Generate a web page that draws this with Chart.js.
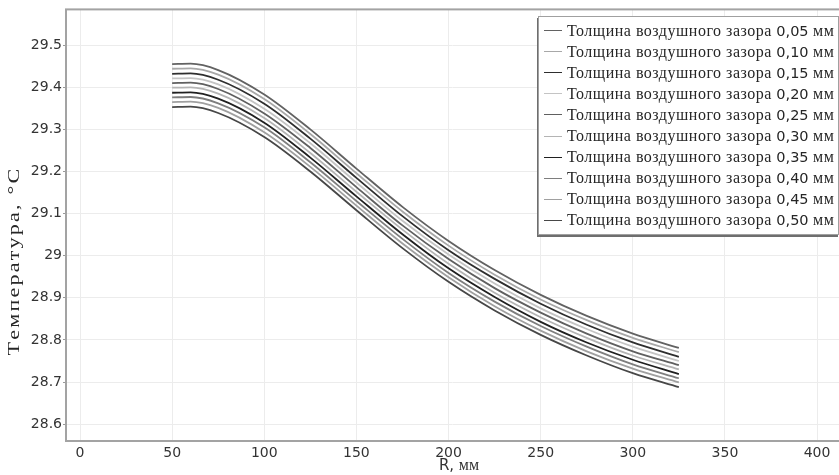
<!DOCTYPE html>
<html><head><meta charset="utf-8">
<script src="https://cdn.jsdelivr.net/npm/chart.js@4.4.1/dist/chart.umd.min.js"></script>
<style>
body{margin:0;background:#fff}
#wrap{position:relative;width:839px;height:475px}
#legend{position:absolute;left:538px;top:16px;width:301px;height:219px;box-sizing:border-box;border:1px solid #a0a0a0;box-shadow:-1px 2px 0 #6e6e6e;background:#fff;padding-top:3px}
.row{height:21.1px;display:flex;align-items:center;white-space:nowrap;font:16px 'Liberation Serif',serif;color:#262626;letter-spacing:0.5px}
.sw{width:18px;height:0;border-top:1.8px solid;margin-left:5px;margin-right:5px}
.num{font-family:'DejaVu Sans',sans-serif;font-size:14.5px;letter-spacing:0}
</style></head>
<body><div id="wrap"><canvas id="c" width="839" height="475"></canvas><div id="legend"></div></div>
<script>
const rValues = [50, 60, 75, 100, 125, 150, 175, 200, 225, 250, 275, 300, 325];
const gapLabels = ['0,05','0,10','0,15','0,20','0,25','0,30','0,35','0,40','0,45','0,50'];
const labelPrefix = 'Толщина воздушного зазора';
const labelUnit = 'мм';
const temp005 = [29.455, 29.456, 29.441, 29.383, 29.300, 29.207, 29.116, 29.035, 28.966, 28.907, 28.857, 28.815, 28.781];
const temp010 = [29.444, 29.445, 29.430, 29.372, 29.289, 29.196, 29.105, 29.024, 28.955, 28.896, 28.847, 28.805, 28.771];
const temp015 = [29.432, 29.433, 29.418, 29.361, 29.278, 29.185, 29.094, 29.013, 28.945, 28.886, 28.836, 28.794, 28.760];
const temp020 = [29.421, 29.422, 29.407, 29.349, 29.267, 29.174, 29.083, 29.003, 28.934, 28.875, 28.826, 28.784, 28.750];
const temp025 = [29.410, 29.411, 29.396, 29.338, 29.256, 29.163, 29.072, 28.992, 28.923, 28.865, 28.815, 28.773, 28.740];
const temp030 = [29.399, 29.400, 29.385, 29.327, 29.244, 29.152, 29.062, 28.981, 28.912, 28.854, 28.805, 28.763, 28.730];
const temp035 = [29.387, 29.388, 29.373, 29.316, 29.233, 29.141, 29.051, 28.970, 28.902, 28.843, 28.794, 28.753, 28.719];
const temp040 = [29.376, 29.377, 29.362, 29.305, 29.222, 29.130, 29.040, 28.959, 28.891, 28.833, 28.784, 28.742, 28.709];
const temp045 = [29.365, 29.366, 29.351, 29.293, 29.211, 29.119, 29.029, 28.949, 28.880, 28.822, 28.773, 28.732, 28.699];
const temp050 = [29.353, 29.354, 29.339, 29.282, 29.200, 29.108, 29.018, 28.938, 28.870, 28.812, 28.763, 28.721, 28.688];
const xTickValues = [0, 50, 100, 150, 200, 250, 300, 350, 400];
const yTickValues = [28.6, 28.7, 28.8, 28.9, 29.0, 29.1, 29.2, 29.3, 29.4, 29.5];
const xTitle = ['R, ', 'мм'];
const yTitle = 'Температура, °C';

const seriesValues = [temp005, temp010, temp015, temp020, temp025, temp030, temp035, temp040, temp045, temp050];
const lineColors = ['#626262','#a8a8a8','#2e2e2e','#c4c4c4','#606060','#b4b4b4','#202020','#7e7e7e','#a0a0a0','#474747'];

const datasets = seriesValues.map((vals, i) => ({
  label: labelPrefix + ' ' + gapLabels[i] + ' ' + labelUnit,
  data: vals.map((v, j) => ({x: rValues[j], y: v})),
  borderColor: lineColors[i],
  borderWidth: 1.8,
  pointRadius: 0,
  fill: false,
  cubicInterpolationMode: 'monotone'
}));

const framePlugin = {
  id: 'frame',
  beforeDatasetsDraw(chart) {
    const {ctx, chartArea: a} = chart;
    ctx.save();
    ctx.strokeStyle = '#a3a3a3';
    ctx.lineWidth = 2;
    ctx.strokeRect(a.left, a.top, a.right - a.left + 2, a.bottom - a.top);
    ctx.restore();
  },
  afterDraw(chart) {
    const {ctx} = chart;
    ctx.save();
    ctx.fillStyle = '#262626';
    ctx.translate(15, 263);
    ctx.rotate(-Math.PI / 2);
    ctx.textAlign = 'left';
    ctx.textBaseline = 'middle';
    ctx.font = "17px 'Liberation Serif'";
    const stretch = 1.3;
    const natural = ctx.measureText(yTitle).width * stretch;
    const target = 185;
    const n = [...yTitle].length;
    const sp = Math.max(0, (target - natural) / (n - 1));
    let x = -target / 2;
    for (const ch of yTitle) {
      ctx.save();
      ctx.translate(x, 0);
      ctx.scale(stretch, 1);
      ctx.fillText(ch, 0, 0);
      ctx.restore();
      x += ctx.measureText(ch).width * stretch + sp;
    }
    ctx.restore();
    ctx.save();
    ctx.fillStyle = '#333';
    ctx.textBaseline = 'middle';
    const f1 = "15px 'DejaVu Sans'", f2 = "16px 'Liberation Serif'";
    ctx.font = f1; const w1 = ctx.measureText(xTitle[0]).width;
    ctx.font = f2; const w2 = ctx.measureText(xTitle[1]).width;
    const cx = 459, cy = 466;
    const x0 = cx - (w1 + w2) / 2;
    ctx.font = f1; ctx.fillText(xTitle[0], x0, cy);
    ctx.font = f2; ctx.fillText(xTitle[1], x0 + w1, cy);
    ctx.restore();
  }
};

new Chart(document.getElementById('c'), {
  type: 'line',
  data: {datasets},
  options: {
    responsive: false,
    animation: false,
    layout: {padding: {top: 9, right: 0, left: 0, bottom: 0}},
    plugins: {legend: {display: false}, tooltip: {enabled: false}},
    scales: {
      x: {
        type: 'linear', min: -7.6, max: 411.9,
        afterBuildTicks: s => { s.ticks = xTickValues.map(v => ({value: v})); },
        afterFit: s => { s.height = 34; },
        grid: {color: '#ececec', drawTicks: false},
        border: {display: false},
        ticks: {color: '#333', font: {family: 'DejaVu Sans', size: 14}, padding: 4, maxRotation: 0, autoSkip: false,
          callback: v => String(v)}
      },
      y: {
        type: 'linear', min: 28.56, max: 29.585,
        afterBuildTicks: s => { s.ticks = yTickValues.map(v => ({value: v})); },
        afterFit: s => { s.width = 66; },
        grid: {color: '#ececec', tickLength: 3, tickColor: '#999'},
        border: {display: false},
        ticks: {color: '#333', font: {family: 'DejaVu Sans', size: 14}, padding: 1, autoSkip: false,
          callback: v => String(parseFloat(Number(v).toFixed(1)))}
      }
    }
  },
  plugins: [framePlugin]
});

const leg = document.getElementById('legend');
gapLabels.forEach((g, i) => {
  const row = document.createElement('div');
  row.className = 'row';
  const sw = document.createElement('span'); sw.className = 'sw'; sw.style.borderTopColor = lineColors[i];
  const t1 = document.createElement('span'); t1.textContent = labelPrefix + '\u00a0';
  const t2 = document.createElement('span'); t2.className = 'num'; t2.textContent = g;
  const t3 = document.createElement('span'); t3.textContent = '\u00a0' + labelUnit;
  row.append(sw, t1, t2, t3);
  leg.appendChild(row);
});
</script></body></html>
